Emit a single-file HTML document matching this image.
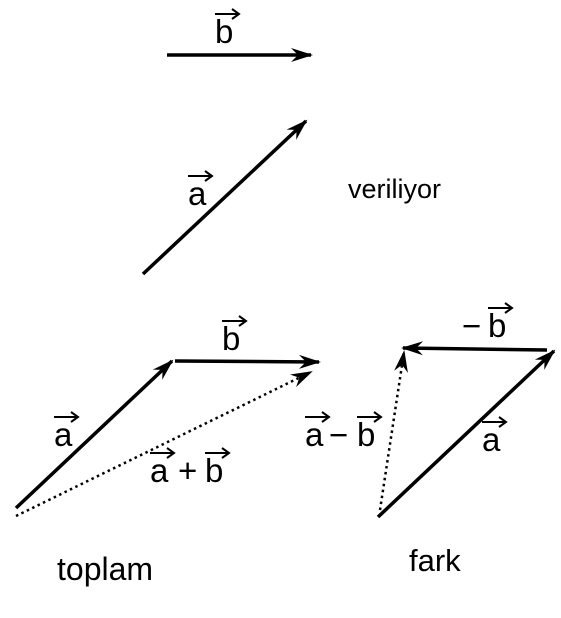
<!DOCTYPE html>
<html><head><meta charset="utf-8"><style>
html,body{margin:0;padding:0;background:#fff;}
svg{display:block;font-family:"Liberation Sans",Arial,sans-serif;}
</style></head><body>
<svg id="s" width="561" height="618" viewBox="0 0 561 618">
<defs>
<marker id="ah" viewBox="0 0 22 14" refX="20" refY="7" markerWidth="22" markerHeight="14" markerUnits="userSpaceOnUse" orient="auto">
<path d="M0,0 L22,7 L0,14 L7,7 Z" fill="#000"/>
</marker>
</defs>
<g>
<line x1="167" y1="55" x2="311" y2="55" stroke="#000" stroke-width="3.5" marker-end="url(#ah)"/>
<line x1="143" y1="274" x2="306" y2="121" stroke="#000" stroke-width="3.5" marker-end="url(#ah)"/>
<text x="348" y="198" font-size="27">veriliyor</text>
</g>
<g>
<line x1="16" y1="508" x2="172" y2="361" stroke="#000" stroke-width="3.5" marker-end="url(#ah)"/>
<line x1="175" y1="361" x2="319" y2="362" stroke="#000" stroke-width="3.5" marker-end="url(#ah)"/>
<line x1="16" y1="516" x2="311" y2="372" stroke="#000" stroke-width="2.5" stroke-dasharray="2.5,3.5" marker-end="url(#ah)"/>
<text x="57" y="580" font-size="32">toplam</text>
</g>
<g>
<line x1="378" y1="517" x2="554" y2="351" stroke="#000" stroke-width="3.5" marker-end="url(#ah)"/>
<line x1="547" y1="350" x2="403" y2="348" stroke="#000" stroke-width="3.5" marker-end="url(#ah)"/>
<line x1="380" y1="510" x2="404" y2="352" stroke="#000" stroke-width="2.5" stroke-dasharray="2.5,3.5" marker-end="url(#ah)"/>
<text x="409" y="571" font-size="31">fark</text>
</g>
<g id="labels"></g>
</svg>
<script>
// glyph, x, baseline, has-arrow
const glyphs = [
 ["b", 215, 43, 1, "label-b-given"],
 ["a", 188, 205, 1, "label-a-given"],
 ["b", 222, 350, 1, "label-b-sum"],
 ["a", 54, 446, 1, "label-a-sum"],
 ["a", 150, 482, 1, "label-a-in-sum"],
 ["+", 178, 482, 0, "label-plus"],
 ["b", 205, 482, 1, "label-b-in-sum"],
 ["−", 462, 337, 0, "label-minus"],
 ["b", 488, 337, 1, "label-minus-b"],
 ["a", 305, 446, 1, "label-a-in-diff"],
 ["−", 329, 446, 0, "label-minus-diff"],
 ["b", 357, 446, 1, "label-b-in-diff"],
 ["a", 482, 451, 1, "label-a-diff"]
];
const g = document.getElementById('labels');
const NS = 'http://www.w3.org/2000/svg';
function arrow(x1, x2, y) {
  const p = document.createElementNS(NS, 'path');
  p.setAttribute('d', `M${x1},${y} L${x2},${y} M${x2-7},${y-5} L${x2},${y} L${x2-7},${y+5}`);
  p.setAttribute('stroke', '#000'); p.setAttribute('stroke-width', '2'); p.setAttribute('fill', 'none');
  
  
  g.appendChild(p);
}
glyphs.forEach(l => {
  const t = document.createElementNS(NS, 'text');
  t.setAttribute('x', l[1]); t.setAttribute('y', l[2]);
  t.setAttribute('font-size', '33');
  t.textContent = l[0];
  
  
  g.appendChild(t);
  if (l[3]) arrow(l[1], l[1] + 24, l[2] - 29);
});
</script>
</body></html>
